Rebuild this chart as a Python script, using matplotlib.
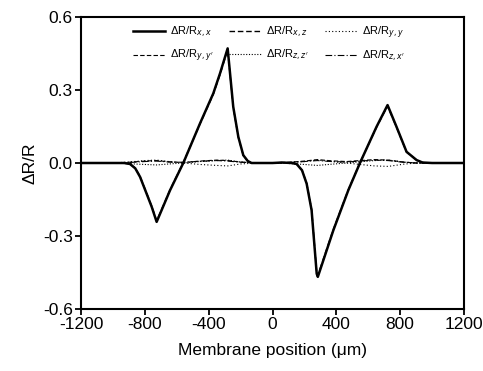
import matplotlib
matplotlib.use("Agg")
import matplotlib.pyplot as plt

plt.rcParams['font.family'] = ['Liberation Sans', 'DejaVu Sans']

# main response (solid)
x_main = [-1200, -1100, -1000, -930, -893, -860, -830, -789, -757, -726, -642, -559, -454, -371, -329, -281,
          -246, -214, -183, -155, -131, -60, 0, 60, 120, 151, 185, 214, 245, 277, 284,
          381, 475, 548, 652, 721, 777, 840, 903, 940, 1000, 1200]
y_main = [0.0, 0.0, 0.0, 0.0, -0.004, -0.022, -0.057, -0.126, -0.18, -0.242, -0.112, 0.0, 0.163, 0.286, 0.368, 0.471,
          0.231, 0.107, 0.032, 0.008, 0.0, 0.0, 0.0, 0.002, 0.0, -0.004, -0.03, -0.085, -0.194, -0.455, -0.468,
          -0.277, -0.112, 0.0, 0.149, 0.238, 0.149, 0.046, 0.012, 0.002, 0.0, 0.0]
# second response (dashed, nearly overlapping)
y_dash = [0.0, 0.0, 0.0, 0.0, -0.004, -0.021, -0.055, -0.123, -0.177, -0.238, -0.11, 0.002, 0.161, 0.282, 0.363, 0.465,
          0.228, 0.105, 0.031, 0.008, 0.0, 0.0, 0.0, 0.002, 0.0, -0.004, -0.029, -0.083, -0.19, -0.448, -0.462,
          -0.273, -0.11, 0.001, 0.147, 0.234, 0.147, 0.045, 0.012, 0.002, 0.0, 0.0]
# small-response curves near zero
x_small = [-1200, -1000, -900, -800, -726, -650, -559, -454, -350, -281, -200, -100, 0, 100, 200, 281,
           370, 464, 548, 640, 725, 820, 900, 1000, 1200]
y_small1 = [0.0, 0.0, 0.004, 0.01, 0.012, 0.006, 0.0, -0.006, -0.01, -0.012, -0.004, 0.0, 0.0, 0.002, 0.006, 0.012,
            0.006, 0.0, -0.006, -0.012, -0.014, -0.005, 0.0, 0.0, 0.0]
y_small2 = [0.0, 0.0, 0.003, 0.008, 0.01, 0.005, 0.002, 0.008, 0.012, 0.01, 0.004, 0.0, 0.0, 0.003, 0.008, 0.014,
            0.009, 0.006, 0.01, 0.014, 0.012, 0.004, 0.0, 0.0, 0.0]
y_small3 = [0.0, 0.0, -0.003, -0.006, -0.008, -0.004, 0.0, 0.006, 0.01, 0.012, 0.004, 0.0, 0.0, -0.002, -0.006, -0.01,
            -0.005, 0.0, 0.005, 0.01, 0.012, 0.004, 0.0, 0.0, 0.0]
y_small4 = [0.0, 0.0, 0.002, 0.006, 0.008, 0.004, 0.003, 0.007, 0.01, 0.008, 0.003, 0.0, 0.0, 0.002, 0.006, 0.01,
            0.006, 0.004, 0.008, 0.012, 0.01, 0.003, 0.0, 0.0, 0.0]

labels = [r"ΔR/R$_{x,x}$", r"ΔR/R$_{x,z}$", r"ΔR/R$_{y,y}$",
          r"ΔR/R$_{y,y'}$", r"ΔR/R$_{z,z'}$", r"ΔR/R$_{z,x'}$"]
x_ticks = [-1200, -800, -400, 0, 400, 800, 1200]
y_ticks = [-0.6, -0.3, 0.0, 0.3, 0.6]

fig = plt.figure(figsize=(4.83, 3.71), dpi=100)
ax = fig.add_axes([81/483, 1 - 309/371, 383/483, 292/371])

k = 'black'
h1, = ax.plot(x_main, y_main, color=k, lw=1.8, ls='-')
h2, = ax.plot(x_main, y_dash, color=k, lw=1.0, ls=(0, (4, 2)))
h3, = ax.plot(x_small, y_small1, color=k, lw=0.8, ls=(0, (1, 2)))
h4, = ax.plot(x_small, y_small2, color=k, lw=0.8, ls=(0, (4, 2)))
h5, = ax.plot(x_small, y_small3, color=k, lw=0.8, ls=(0, (1, 1.5)))
h6, = ax.plot(x_small, y_small4, color=k, lw=0.8, ls=(0, (6, 2, 1, 2)))

ax.set_xlim(-1200, 1200)
ax.set_ylim(-0.6, 0.6)
ax.set_xticks(x_ticks)
ax.set_xticklabels([str(v) for v in x_ticks])
ax.set_yticks(y_ticks)
ax.set_yticklabels([f"{v:.1f}" for v in y_ticks])
ax.tick_params(direction='out', length=4, width=1.3, labelsize=12.5, colors='black', pad=2)
for s in ax.spines.values():
    s.set_linewidth(1.5)
ax.set_xlabel("Membrane position (μm)", fontsize=12.5, labelpad=8)
ax.set_ylabel("ΔR/R", fontsize=12.5, labelpad=4)

ax.legend([h1, h4, h2, h5, h3, h6], [labels[0], labels[3], labels[1], labels[4], labels[2], labels[5]],
          ncol=3, loc='upper left', bbox_to_anchor=(0.135, 0.975), frameon=False, fontsize=8,
          handlelength=2.9, columnspacing=1.4, handletextpad=0.45, labelspacing=0.75, borderpad=0,
          borderaxespad=0)

fig.savefig("out.png", dpi=100)
